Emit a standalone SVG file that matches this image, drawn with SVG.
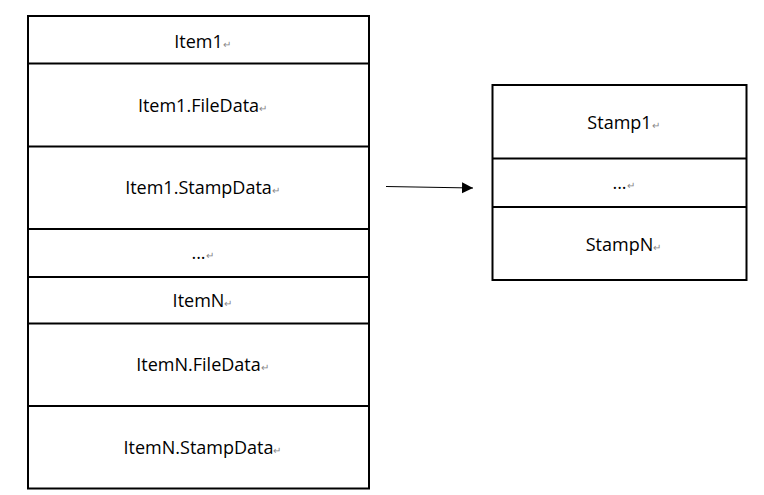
<svg xmlns="http://www.w3.org/2000/svg" width="764" height="495" viewBox="0 0 764 495">
<style>
.box{fill:#fff;stroke:#000;stroke-width:2}
.div{stroke:#000;stroke-width:2}
.t{font-family:"Open Sans","Liberation Sans",sans-serif;font-size:18px;fill:#000;text-anchor:middle}
.rm{fill:#888;font-size:10px}
</style>
<defs>
<marker id="ah" markerWidth="12" markerHeight="12" refX="11" refY="6" orient="auto" markerUnits="userSpaceOnUse">
<path d="M0,0.5 L11,6 L0,11.5 Z" fill="#000"/>
</marker>
</defs>
<g id="left">
<rect class="box" x="28" y="16" width="341" height="472.5"/>
<line class="div" x1="28" y1="63.5" x2="369" y2="63.5"/>
<line class="div" x1="28" y1="146.5" x2="369" y2="146.5"/>
<line class="div" x1="28" y1="229" x2="369" y2="229"/>
<line class="div" x1="28" y1="277" x2="369" y2="277"/>
<line class="div" x1="28" y1="323.5" x2="369" y2="323.5"/>
<line class="div" x1="28" y1="406" x2="369" y2="406"/>
<text class="t" x="202.5" y="47.5">Item1<tspan class="rm">↵</tspan></text>
<text class="t" x="202.5" y="111.5">Item1.FileData<tspan class="rm">↵</tspan></text>
<text class="t" x="202.5" y="194">Item1.StampData<tspan class="rm">↵</tspan></text>
<text class="t" x="202.5" y="259">...<tspan class="rm">↵</tspan></text>
<text class="t" x="202.5" y="306.5">ItemN<tspan class="rm">↵</tspan></text>
<text class="t" x="202.5" y="371">ItemN.FileData<tspan class="rm">↵</tspan></text>
<text class="t" x="202.5" y="453.5">ItemN.StampData<tspan class="rm">↵</tspan></text>
</g>
<g id="right">
<rect class="box" x="492.5" y="85" width="254" height="195"/>
<line class="div" x1="492.5" y1="158.5" x2="746.5" y2="158.5"/>
<line class="div" x1="492.5" y1="207" x2="746.5" y2="207"/>
<text class="t" x="623.5" y="128.5">Stamp1<tspan class="rm">↵</tspan></text>
<text class="t" x="623.5" y="189">...<tspan class="rm">↵</tspan></text>
<text class="t" x="623.5" y="250.5">StampN<tspan class="rm">↵</tspan></text>
</g>
<g id="connectors">
<line x1="386" y1="186.5" x2="473" y2="188" stroke="#000" stroke-width="1.2" marker-end="url(#ah)"/>
</g>
</svg>
